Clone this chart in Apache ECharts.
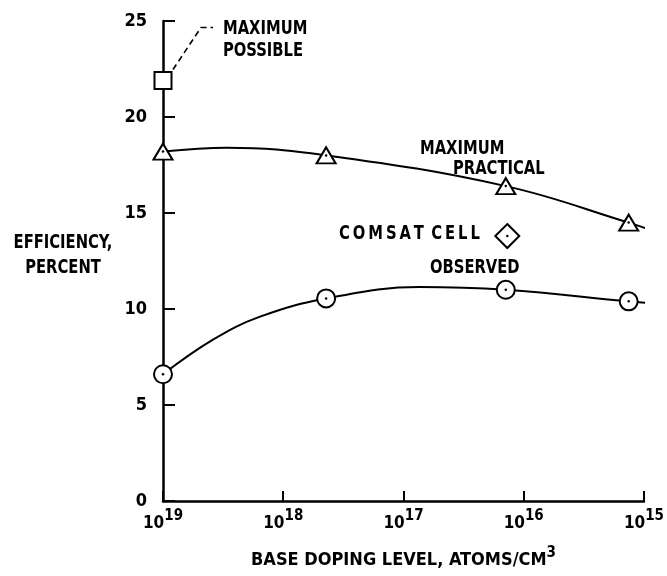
<!DOCTYPE html>
<html>
<head>
<meta charset="utf-8">
<script src="https://cdn.jsdelivr.net/npm/echarts@6/dist/echarts.min.js"></script>
<style>
  html, body { margin: 0; padding: 0; background: #fff; }
  #chart { width: 667px; height: 576px; }
</style>
</head>
<body>
<div id="chart"></div>
<script>
// Solar-cell efficiency versus base doping level (atoms/cm^3)
const dopingLevels = [1e19, 4.4e17, 1.41e16, 1.34e15];
const practicalEff = [18.2, 18.0, 16.4, 14.5];
const observedEff = [6.6, 10.55, 11.0, 10.4];
const possibleDoping = [1e19];
const possibleEff = [21.9];
const comsatDoping = [1.37e16];
const comsatEff = [13.8];

// Hand-faired trend curves through the measured points
const practicalCurveX = [1e19, 2.94e18, 4.4e17, 1.41e16, 1.34e15, 8.7e14];
const practicalCurveY = [18.2, 18.4, 18.0, 16.4, 14.5, 14.1];
const observedCurveX = [1e19, 3.84e18, 1.56e18, 4.4e17, 7.3e16, 1.41e16, 1.34e15, 8.7e14];
const observedCurveY = [6.6, 8.4, 9.6, 10.55, 11.15, 11.0, 10.4, 10.3];

const yTicks = [0, 5, 10, 15, 20, 25];

const FONT = "'Liberation Sans Narrow', 'DejaVu Sans Condensed', 'Arial Narrow', sans-serif";
const zip = (xs, ys) => xs.map((x, i) => [x, ys[i]]);

const chart = echarts.init(document.getElementById('chart'), null, { renderer: 'canvas' });

const markerStyle = { color: '#fff', borderColor: '#000', borderWidth: 2, opacity: 1 };
const dotSeries = (data) => ({
  type: 'scatter', data, symbol: 'circle', symbolSize: 2.5,
  itemStyle: { color: '#000', opacity: 1 }, z: 6, silent: true
});

chart.setOption({
  animation: false,
  backgroundColor: '#fff',
  grid: { left: 163, right: 23, top: 21, bottom: 75, containLabel: false },
  xAxis: {
    type: 'log', logBase: 10, min: 1e15, max: 1e19, inverse: true,
    axisLine: { lineStyle: { color: '#000', width: 2.5 } },
    axisTick: { inside: true, length: 10, lineStyle: { color: '#000', width: 2 } },
    splitLine: { show: false },
    axisLabel: {
      margin: 8,
      formatter: v => '{b|10}{s|' + Math.round(Math.log10(v)) + '}',
      rich: {
        b: { fontFamily: FONT, fontWeight: 'bold', fontSize: 17, color: '#000' },
        s: { fontFamily: FONT, fontWeight: 'bold', fontSize: 15, color: '#000', padding: [0, 0, 14, 0] }
      }
    },
    name: '{a|BASE DOPING LEVEL, ATOMS/CM}{s|3}',
    nameLocation: 'middle', nameGap: 45,
    nameTextStyle: {
      rich: {
        a: { fontFamily: FONT, fontWeight: 'bold', fontSize: 18, color: '#000' },
        s: { fontFamily: FONT, fontWeight: 'bold', fontSize: 15, color: '#000', padding: [0, 0, 14, 0] }
      }
    }
  },
  yAxis: {
    type: 'value', min: yTicks[0], max: yTicks[yTicks.length - 1], interval: 5,
    axisLine: { lineStyle: { color: '#000', width: 2.5 } },
    axisTick: { inside: true, length: 12, lineStyle: { color: '#000', width: 2 } },
    splitLine: { show: false },
    axisLabel: { margin: 16, fontFamily: FONT, fontWeight: 'bold', fontSize: 18, color: '#000' }
  },
  series: [
    {
      type: 'line', data: zip(practicalCurveX, practicalCurveY), smooth: 0.4,
      showSymbol: false, clip: false, lineStyle: { color: '#000', width: 2 }, z: 2, silent: true
    },
    {
      type: 'line', data: zip(observedCurveX, observedCurveY), smooth: 0.4,
      showSymbol: false, clip: false, lineStyle: { color: '#000', width: 2 }, z: 2, silent: true
    },
    { type: 'scatter', data: zip(dopingLevels, practicalEff), symbol: 'triangle', symbolSize: [19, 16], itemStyle: markerStyle, z: 5 },
    { type: 'scatter', data: zip(dopingLevels, observedEff), symbol: 'circle', symbolSize: 18, itemStyle: markerStyle, z: 5 },
    { type: 'scatter', data: zip(possibleDoping, possibleEff), symbol: 'rect', symbolSize: 17, itemStyle: markerStyle, z: 5 },
    { type: 'scatter', data: zip(comsatDoping, comsatEff), symbol: 'diamond', symbolSize: 24, itemStyle: markerStyle, z: 5 },
    dotSeries(zip(dopingLevels, practicalEff)),
    dotSeries(zip(dopingLevels, observedEff)),
    dotSeries(zip(comsatDoping, comsatEff))
  ]
});

// Text annotations (condensed horizontally) and the leader from the "maximum possible" box
const sq = chart.convertToPixel({ gridIndex: 0 }, [possibleDoping[0], possibleEff[0]]);
const txt = (x, y, s, align) => ({
  type: 'text', x, y, scaleX: 0.82, z: 10,
  style: { text: s, fontFamily: FONT, fontWeight: 'bold', fontSize: 20, fill: '#000', textAlign: align || 'left', textVerticalAlign: 'middle' }
});
chart.setOption({
  graphic: [
    {
      type: 'polyline', z: 10,
      shape: { points: [[sq[0] + 10, sq[1] - 11], [sq[0] + 38, sq[1] - 53], [sq[0] + 50, sq[1] - 53]] },
      style: { stroke: '#000', lineWidth: 1.6, lineDash: [6, 4], fill: null }
    },
    txt(223, 29, 'MAXIMUM'),
    txt(223, 51, 'POSSIBLE'),
    txt(420, 149, 'MAXIMUM'),
    txt(453, 169, 'PRACTICAL'),
    txt(339, 234, 'C\u2009O\u2009M\u2009S\u2009A\u2009T\u2002C\u2009E\u2009L\u2009L'),
    txt(430, 268, 'OBSERVED'),
    txt(63, 243, 'EFFICIENCY,', 'center'),
    txt(63, 268, 'PERCENT', 'center')
  ]
});
</script>
</body>
</html>
